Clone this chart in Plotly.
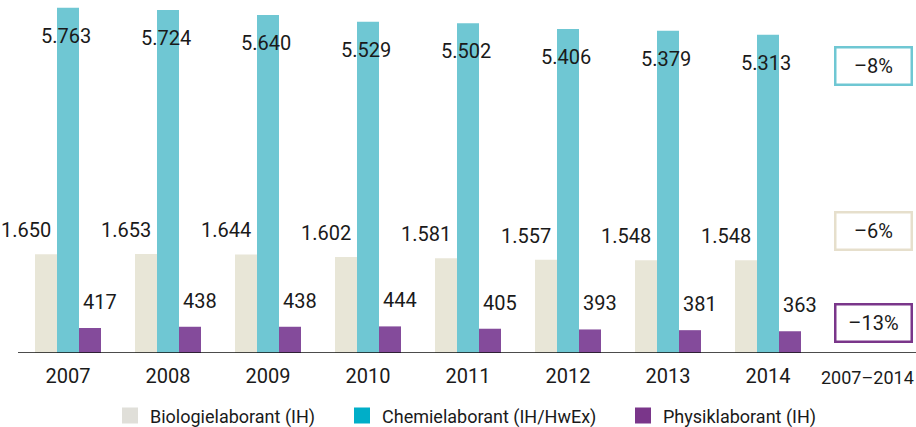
import plotly.graph_objects as go

years = ["2007", "2008", "2009", "2010", "2011", "2012", "2013", "2014"]
summary_label = "2007–2014"
bio = [1650, 1653, 1644, 1602, 1581, 1557, 1548, 1548]
chemie = [5763, 5724, 5640, 5529, 5502, 5406, 5379, 5313]
physik = [417, 438, 438, 444, 405, 393, 381, 363]
series_names = ["Biologielaborant (IH)", "Chemielaborant (IH/HwEx)", "Physiklaborant (IH)"]
changes = ["–6%", "–8%", "–13%"]

FONT = "Roboto, Liberation Sans, sans-serif"
bar_colors = ["#e8e6d7", "#6fc7d3", "#844b9b"]
legend_colors = ["#e0dfd9", "#00aec8", "#7a368a"]
legend_widths = [187, 236, 160]

def fmt(v):
    return f"{v:,}".replace(",", ".")

xs = list(range(len(years)))
W = 0.22
fig = go.Figure()
series = [bio, chemie, physik]
offsets = [-1.5 * W, -0.5 * W, 0.5 * W]
for vals, name, col, off in zip(series, series_names, bar_colors, offsets):
    fig.add_trace(go.Bar(x=xs, y=vals, width=W, offset=off, marker=dict(color=col, line_width=0),
                         name=name, showlegend=False, hoverinfo="skip"))
for name, col, lw in zip(series_names, legend_colors, legend_widths):
    fig.add_trace(go.Scatter(x=[None], y=[None], mode="markers", name=name, legendwidth=lw,
                             marker=dict(symbol="square", size=16, color=col, line_width=0)))

ann = []
lab_font = dict(family=FONT, size=20, color="#1a1a1a")
for i in xs:
    ann.append(dict(x=i - W, y=bio[i], text=fmt(bio[i]), showarrow=False, xshift=-20, yshift=24,
                    font=lab_font, yanchor="middle"))
    ann.append(dict(x=i, y=chemie[i], text=fmt(chemie[i]), showarrow=False, xshift=-2, yshift=-28,
                    font=lab_font, yanchor="middle"))
    ann.append(dict(x=i + W, y=physik[i], text=fmt(physik[i]), showarrow=False, xshift=10, yshift=26,
                    font=lab_font, yanchor="middle"))

box_y = [2036, 4790, 500]
box_border = ["#e6dfcc", "#6fc7d3", "#7a368a"]
for txt, yy, bc in zip(changes, box_y, box_border):
    ann.append(dict(x=len(years), y=yy, xshift=5, text=txt, showarrow=False, font=lab_font,
                    bordercolor=bc, borderwidth=2.5, borderpad=2, width=70, height=31,
                    bgcolor="white", yanchor="middle"))

# summary category label (slightly smaller so it fits at the right edge)
ann.append(dict(x=len(years), y=0, text=summary_label, showarrow=False, xshift=-1, yshift=-24,
                yanchor="middle", font=dict(family=FONT, size=18, color="#1a1a1a")))

fig.update_layout(
    width=916, height=427,
    margin=dict(l=18, r=0, t=0, b=74, autoexpand=False),
    paper_bgcolor="white", plot_bgcolor="white",
    barmode="overlay",
    font=dict(family=FONT, size=20, color="#1a1a1a"),
    xaxis=dict(range=[-0.5, 8.48], tickvals=xs, ticktext=years,
               showgrid=False, zeroline=False, showline=False, ticks="", automargin=False,
               ticklabelstandoff=9,
               tickfont=dict(family=FONT, size=20, color="#1a1a1a")),
    yaxis=dict(range=[0, 353 / 0.05992], visible=False, showgrid=False, zeroline=False, automargin=False),
    legend=dict(orientation="h", x=(110 - 18) / 898, xanchor="left", y=-0.178, yanchor="middle",
                font=dict(family=FONT, size=18, color="#1a1a1a"), itemwidth=30,
                bgcolor="rgba(0,0,0,0)"),
    annotations=ann,
    shapes=[dict(type="line", xref="paper", yref="y", x0=0, x1=1, y0=0, y1=0,
                 line=dict(color="#111111", width=1.5))],
    showlegend=True,
)
fig.write_html("out.html", config={"displayModeBar": False},
               post_script="document.body.style.margin='0';")
